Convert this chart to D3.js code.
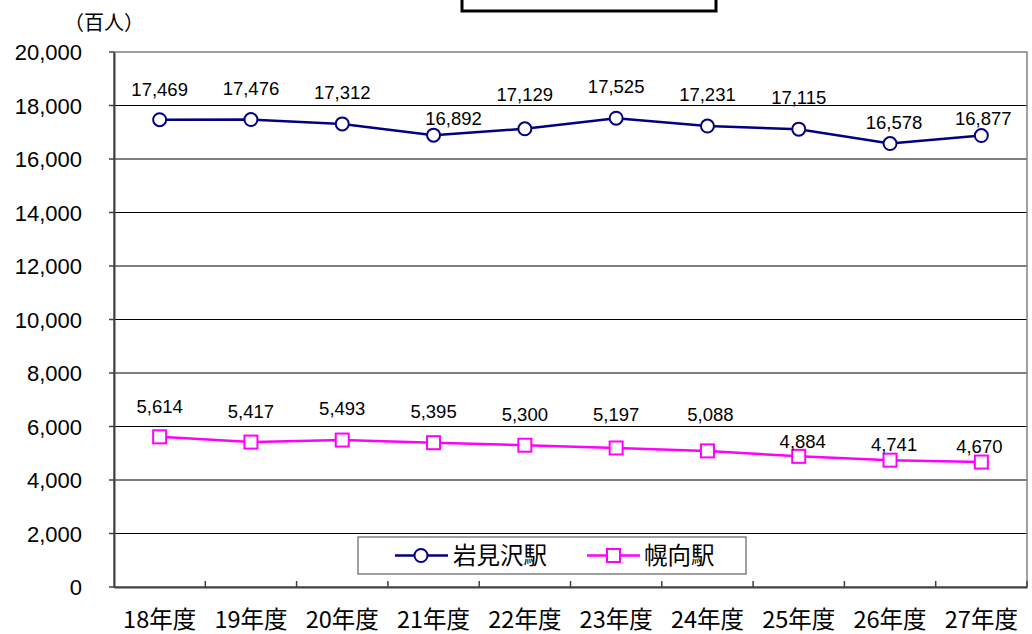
<!DOCTYPE html>
<html>
<head>
<meta charset="utf-8">
<script src="https://cdn.jsdelivr.net/npm/d3@7"></script>
<style>
  body { margin: 0; background: #fff; }
  text { font-family: "Liberation Sans", "Noto Sans CJK JP", sans-serif; fill: #000; }
  .cjk { font-family: "Noto Sans CJK JP", sans-serif; }
</style>
</head>
<body>
<div id="chart"></div>
<script>
var years = ["18年度", "19年度", "20年度", "21年度", "22年度", "23年度", "24年度", "25年度", "26年度", "27年度"];
var iwamizawa = [17469, 17476, 17312, 16892, 17129, 17525, 17231, 17115, 16578, 16877];
var horomui = [5614, 5417, 5493, 5395, 5300, 5197, 5088, 4884, 4741, 4670];
var yTicks = [0, 2000, 4000, 6000, 8000, 10000, 12000, 14000, 16000, 18000, 20000];

// label nudges (pixels), as placed in the original
var blueLabelDy = [-30, -31, -32, -17, -34, -32, -32, -32, -21, -17];
var blueLabelDx = [0, 0, 0, 20, 0, 0, 0, 0, 4, 2];
var pinkLabelDy = [-30, -31, -32, -31, -31, -34, -37, -15, -16, -16];
var pinkLabelDx = [0, 0, 0, 0, 0, 0, 3, 4, 4, -2];

var W = 1032, H = 634;
var plotLeft = 114, plotRight = 1027, plotTop = 52, plotBottom = 587;

var svg = d3.select("#chart").append("svg")
    .attr("width", W)
    .attr("height", H);

var x = d3.scaleBand().domain(years).range([plotLeft, plotRight]);
var y = d3.scaleLinear().domain([0, 20000]).range([plotBottom, plotTop]);
var fmt = d3.format(",");

// title box (cut off at top)
svg.append("rect")
    .attr("x", 462).attr("y", -10)
    .attr("width", 254).attr("height", 21)
    .attr("fill", "#fff")
    .attr("stroke", "#000")
    .attr("stroke-width", 3);

// gridlines
svg.append("g")
    .selectAll("line")
    .data(yTicks.filter(d => d > 0 && d < 20000))
    .enter()
    .append("line")
    .attr("x1", plotLeft).attr("x2", plotRight)
    .attr("y1", d => y(d)).attr("y2", d => y(d))
    .attr("stroke", "#000")
    .attr("stroke-width", 1);

// frame
svg.append("rect")
    .attr("x", plotLeft).attr("y", plotTop)
    .attr("width", plotRight - plotLeft).attr("height", plotBottom - plotTop)
    .attr("fill", "none")
    .attr("stroke", "#808080")
    .attr("stroke-width", 1.5);

// y axis
var yAxis = d3.axisLeft(y).tickValues(yTicks).tickSize(0).tickPadding(0).tickFormat(fmt);
var gy = svg.append("g").attr("transform", "translate(" + plotLeft + ",0)").call(yAxis);
gy.select(".domain").attr("stroke", "#404040").attr("stroke-width", 2);
gy.selectAll(".tick text")
    .attr("x", -32)
    .attr("dy", "0.36em")
    .style("font-size", "22px")
    .style("font-family", "Liberation Sans, sans-serif")
    .attr("fill", "#000");
gy.selectAll(".tick line").remove();
// small left ticks on y axis
svg.append("g").selectAll("line")
    .data(yTicks)
    .enter().append("line")
    .attr("x1", plotLeft - 5).attr("x2", plotLeft)
    .attr("y1", d => y(d)).attr("y2", d => y(d))
    .attr("stroke", "#404040").attr("stroke-width", 1.5);

// x axis
var xAxis = d3.axisBottom(x).tickSize(0).tickPadding(0);
var gx = svg.append("g").attr("transform", "translate(0," + plotBottom + ")").call(xAxis);
gx.select(".domain").attr("stroke", "#404040").attr("stroke-width", 2);
gx.selectAll(".tick text")
    .attr("y", 33)
    .attr("dy", "0.36em")
    .attr("class", "cjk")
    .style("font-size", "23.5px")
    .attr("fill", "#000");
// category boundary ticks
svg.append("g").selectAll("line")
    .data(years)
    .enter().append("line")
    .attr("x1", d => x(d) + x.bandwidth())
    .attr("x2", d => x(d) + x.bandwidth())
    .attr("y1", plotBottom - 6).attr("y2", plotBottom)
    .attr("stroke", "#404040").attr("stroke-width", 1.5);

// unit label
svg.append("text")
    .attr("class", "cjk")
    .attr("x", 64).attr("y", 30)
    .style("font-size", "20px")
    .style("font-feature-settings", "'fwid'")
    .text("（百人）");

function cx(d, i) { return x(years[i]) + x.bandwidth() / 2; }

var line = d3.line()
    .x(function (d, i) { return cx(d, i); })
    .y(function (d) { return y(d); });

// 岩見沢駅
svg.append("path")
    .datum(iwamizawa)
    .attr("d", line)
    .attr("fill", "none")
    .attr("stroke", "#000080")
    .attr("stroke-width", 2.5);

svg.append("g").selectAll("circle")
    .data(iwamizawa)
    .enter().append("circle")
    .attr("cx", cx)
    .attr("cy", d => y(d))
    .attr("r", 6.5)
    .attr("fill", "#fff")
    .attr("stroke", "#000080")
    .attr("stroke-width", 2);

svg.append("g").selectAll("text")
    .data(iwamizawa)
    .enter().append("text")
    .attr("x", (d, i) => cx(d, i) + blueLabelDx[i])
    .attr("y", (d, i) => y(d) + blueLabelDy[i])
    .attr("dy", "0.36em")
    .attr("text-anchor", "middle")
    .style("font-size", "18.5px")
    .text(d => fmt(d));

// 幌向駅
svg.append("path")
    .datum(horomui)
    .attr("d", line)
    .attr("fill", "none")
    .attr("stroke", "#ff00ff")
    .attr("stroke-width", 2.5);

svg.append("g").selectAll("rect")
    .data(horomui)
    .enter().append("rect")
    .attr("x", (d, i) => cx(d, i) - 6.5)
    .attr("y", d => y(d) - 6.5)
    .attr("width", 13).attr("height", 13)
    .attr("fill", "#fff")
    .attr("stroke", "#ff00ff")
    .attr("stroke-width", 2);

svg.append("g").selectAll("text")
    .data(horomui)
    .enter().append("text")
    .attr("x", (d, i) => cx(d, i) + pinkLabelDx[i])
    .attr("y", (d, i) => y(d) + pinkLabelDy[i])
    .attr("dy", "0.36em")
    .attr("text-anchor", "middle")
    .style("font-size", "18.5px")
    .text(d => fmt(d));

// legend
var legend = svg.append("g").attr("transform", "translate(358,537)");
legend.append("rect")
    .attr("width", 388).attr("height", 37)
    .attr("fill", "#fff")
    .attr("stroke", "#606060")
    .attr("stroke-width", 1.2);

legend.append("line")
    .attr("x1", 37).attr("x2", 90).attr("y1", 18.5).attr("y2", 18.5)
    .attr("stroke", "#000080").attr("stroke-width", 2.5);
legend.append("circle")
    .attr("cx", 63).attr("cy", 18.5).attr("r", 6.5)
    .attr("fill", "#fff").attr("stroke", "#000080").attr("stroke-width", 2);
legend.append("text")
    .attr("class", "cjk")
    .attr("x", 95).attr("y", 19).attr("dy", "0.36em")
    .style("font-size", "23.5px")
    .text("岩見沢駅");

legend.append("line")
    .attr("x1", 229).attr("x2", 282).attr("y1", 18.5).attr("y2", 18.5)
    .attr("stroke", "#ff00ff").attr("stroke-width", 2.5);
legend.append("rect")
    .attr("x", 249).attr("y", 12).attr("width", 13).attr("height", 13)
    .attr("fill", "#fff").attr("stroke", "#ff00ff").attr("stroke-width", 2);
legend.append("text")
    .attr("class", "cjk")
    .attr("x", 286).attr("y", 19).attr("dy", "0.36em")
    .style("font-size", "23.5px")
    .text("幌向駅");
</script>
</body>
</html>
